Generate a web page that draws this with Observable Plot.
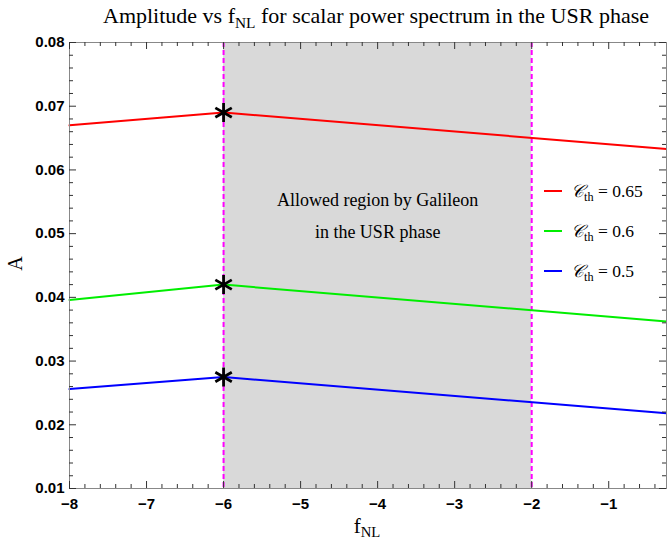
<!DOCTYPE html>
<html>
<head>
<meta charset="utf-8">
<script src="https://cdn.jsdelivr.net/npm/d3@7"></script>
<script src="https://cdn.jsdelivr.net/npm/@observablehq/plot@0.6"></script>
<style>
  html, body { margin: 0; padding: 0; background: #fff; }
  #wrap { position: relative; width: 667px; height: 547px; overflow: hidden; }
  .serif { font-family: "Liberation Serif", "DejaVu Serif", serif; color: #000; }
  #title { position: absolute; left: 0; width: 752px; top: 3px; text-align: center; font-size: 22px; }
  #ylab { position: absolute; left: 8px; top: 252px; font-size: 20px; transform: rotate(-90deg); }
  #xlab { position: absolute; left: 0; width: 734px; top: 514px; text-align: center; font-size: 21px; }
  #legend { position: absolute; left: 544px; top: 171px; font-size: 17.5px; }
  .item { display: flex; align-items: center; height: 40px; }
  .sw { width: 18px; height: 0; border-top: 2px solid; margin-right: 9px; }
  sub { font-size: 0.7em; vertical-align: -0.3em; line-height: 0; }
</style>
</head>
<body>
<div id="wrap">
  <div id="chart"></div>
  <div id="title" class="serif">Amplitude vs f<sub>NL</sub> for scalar power spectrum in the USR phase</div>
  <div id="ylab" class="serif">A</div>
  <div id="xlab" class="serif">f<sub>NL</sub></div>
  <div id="legend" class="serif"></div>
</div>
<script>
// Data
const fNL = [-8, -6, -0.25];
const ampRed = [0.067, 0.069, 0.0633];     // C_th = 0.65
const ampGreen = [0.0396, 0.0420, 0.0362]; // C_th = 0.6
const ampBlue = [0.0256, 0.0275, 0.0218];  // C_th = 0.5
const seriesNames = ["0.65", "0.6", "0.5"];
const seriesColors = ["#ff0000", "#00ee00", "#0000ff"];
const regionBounds = [-6, -2];
const annotation = ["Allowed region by Galileon", "in the USR phase"];
const annotationY = [0.0552, 0.0502];
const xTicks = [-8, -7, -6, -5, -4, -3, -2, -1];
const yTicks = [0.01, 0.02, 0.03, 0.04, 0.05, 0.06, 0.07, 0.08];

const allSeries = [ampRed, ampGreen, ampBlue];
const lineData = allSeries.flatMap((s, i) => s.map((v, j) => ({x: fNL[j], y: v, s: seriesNames[i]})));
const peaks = allSeries.map((s, i) => ({x: fNL[1], y: s[1]}));
const annData = annotation.map((t, i) => ({t, x: (regionBounds[0] + regionBounds[1]) / 2, y: annotationY[i]}));

const xMinor = d3.range(-8, -0.2, 0.2).map(v => +v.toFixed(2)).filter(v => !xTicks.includes(v));
const yMinor = d3.range(0.01, 0.0801, 0.002).map(v => +v.toFixed(4)).filter(v => !yTicks.includes(v));
const fmtX = d => d < 0 ? "\u2212" + Math.abs(d) : String(d);
const fmtY = d3.format(".2f");
const tickFont = {fontFamily: "Liberation Sans, Arial, sans-serif", fontSize: 15, fontWeight: "bold", fill: "#000"};

const W = 667, H = 547, mT = 42, mB = 59, mL = 69, mR = 1;
const pw = W - mL - mR, ph = H - mT - mB;
const MAJ = 7, MIN = 4;
const tkStyle = {stroke: "#333", strokeWidth: 1};

const plot = Plot.plot({
  width: W,
  height: H,
  marginTop: mT,
  marginBottom: mB,
  marginLeft: mL,
  marginRight: mR,
  x: {domain: [-8, -0.25]},
  y: {domain: [0.01, 0.08]},
  color: {domain: seriesNames, range: seriesColors},
  marks: [
    Plot.rect([regionBounds], {x1: d => d[0], x2: d => d[1], fill: "#d9d9d9"}),
    Plot.ruleX(regionBounds, {stroke: "#ff00ff", strokeWidth: 2, strokeDasharray: "5,3"}),
    Plot.text(annData, {x: "x", y: "y", text: "t", fontFamily: "Liberation Serif, DejaVu Serif, serif", fontSize: 18, fill: "#000"}),
    Plot.line(lineData, {x: "x", y: "y", z: "s", stroke: "s", strokeWidth: 2}),
    Plot.dot(peaks, {x: "x", y: "y", symbol: "asterisk", r: 9, stroke: "#000", strokeWidth: 2.8}),
    Plot.frame({stroke: "#888", strokeWidth: 1}),
    // inward ticks on all four sides
    Plot.tickX(xTicks, {x: d => d, insetTop: ph - MAJ, ...tkStyle}),
    Plot.tickX(xMinor, {x: d => d, insetTop: ph - MIN, ...tkStyle}),
    Plot.tickX(xTicks, {x: d => d, insetBottom: ph - MAJ, ...tkStyle}),
    Plot.tickX(xMinor, {x: d => d, insetBottom: ph - MIN, ...tkStyle}),
    Plot.tickY(yTicks, {y: d => d, insetRight: pw - MAJ, ...tkStyle}),
    Plot.tickY(yMinor, {y: d => d, insetRight: pw - MIN, ...tkStyle}),
    Plot.tickY(yTicks, {y: d => d, insetLeft: pw - MAJ, ...tkStyle}),
    Plot.tickY(yMinor, {y: d => d, insetLeft: pw - MIN, ...tkStyle}),
    // labels
    Plot.axisX({anchor: "bottom", ticks: xTicks, tickSize: 0, tickPadding: 10, tickFormat: fmtX, label: null, ...tickFont}),
    Plot.axisY({anchor: "left", ticks: yTicks, tickSize: 0, tickPadding: 5, tickFormat: fmtY, label: null, ...tickFont})
  ]
});
document.getElementById("chart").appendChild(plot);

const legend = d3.select("#legend");
seriesNames.forEach((n, i) => {
  const it = legend.append("div").attr("class", "item");
  it.append("div").attr("class", "sw").style("border-color", seriesColors[i]);
  it.append("span").html(`<i>\u{1D49E}</i><sub>th</sub> = ${n}`);
});
</script>
</body>
</html>
